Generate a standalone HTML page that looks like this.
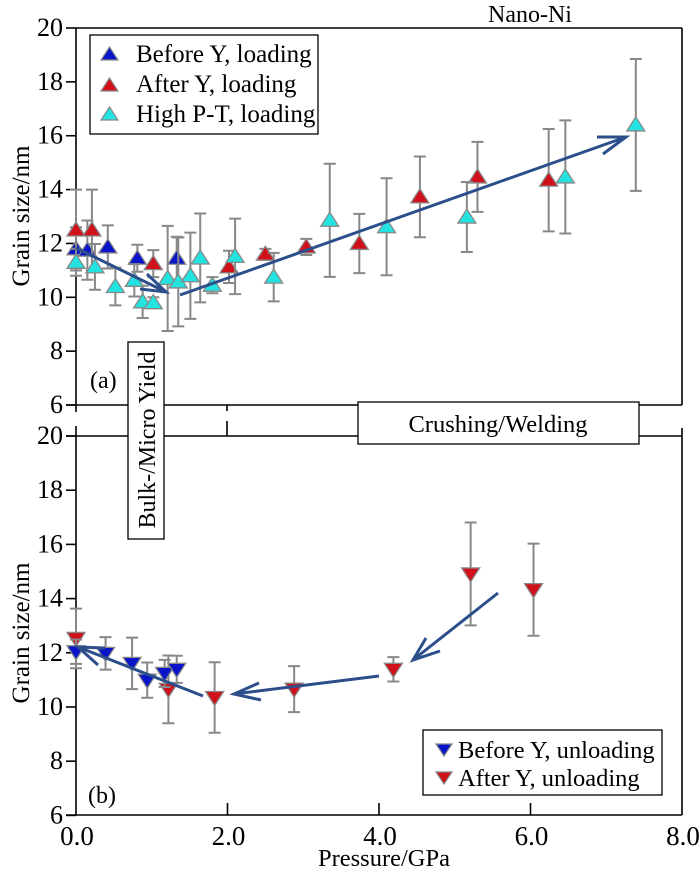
<!DOCTYPE html>
<html><head><meta charset="utf-8"><style>
html,body{margin:0;padding:0;background:#fff;}
svg, svg text{font-family:"Liberation Serif","Times New Roman",serif;}
</style></head><body>
<svg id="chart" width="700" height="873" viewBox="0 0 700 873" xmlns="http://www.w3.org/2000/svg" font-family="Liberation Serif, serif">
<g id="frame" stroke="#000" stroke-width="1.6" fill="none">
  <line x1="76" y1="28" x2="682" y2="28"/>
  <line x1="682" y1="28" x2="682" y2="405"/>
  <line x1="66" y1="405" x2="682" y2="405"/>
  <line x1="76" y1="28" x2="76" y2="412"/>
  <line x1="66" y1="436" x2="682" y2="436"/>
  <line x1="682" y1="428" x2="682" y2="815"/>
  <line x1="76" y1="426" x2="76" y2="815"/>
  <line x1="66" y1="815" x2="682" y2="815"/>
  <line x1="227" y1="405" x2="227" y2="411"/>
  <line x1="227" y1="421" x2="227" y2="436"/>
</g>
<g id="ticks"></g>
<text x="530" y="22" font-size="24" text-anchor="middle">Nano-Ni</text>
<g id="plotA"></g>
<g id="plotB"></g>
<g stroke="#2c4f8c" stroke-width="3" fill="none" stroke-linecap="butt">
  <path d="M76 248 L166 292 M140 289 L166 292 L147 274"/>
  <path d="M180 295 L626 137 M597 137 L626 137 L603 154"/>
  <path d="M498 593 L413 660 M426 638 L413 660 L440 651"/>
  <path d="M379 676 L234 694 M259 683 L234 694 L261 700"/>
  <path d="M203 696 L78 647 M105 648 L78 647 L98 665"/>
</g>
<g>
  <rect x="90" y="35" width="228" height="99" fill="#fff" stroke="#000" stroke-width="1.3"/>
  <polygon points="101,60 118,60 109.5,47" fill="#0a14c8" stroke="#888" stroke-width="1.2"/>
  <text x="136" y="62" font-size="25">Before Y, loading</text>
  <polygon points="101,91 118,91 109.5,78" fill="#d0101a" stroke="#888" stroke-width="1.2"/>
  <text x="136" y="92" font-size="25">After Y, loading</text>
  <polygon points="101,120 118,120 109.5,107" fill="#22e3e0" stroke="#888" stroke-width="1.2"/>
  <text x="136" y="122" font-size="25">High P-T, loading</text>
</g>
<g>
  <rect x="423" y="730" width="239" height="65" fill="#fff" stroke="#000" stroke-width="1.3"/>
  <polygon points="436,744 452,744 444,756" fill="#0a14c8" stroke="#888" stroke-width="1.2"/>
  <text x="458" y="758" font-size="24.5">Before Y, unloading</text>
  <polygon points="436,772 452,772 444,784" fill="#d0101a" stroke="#888" stroke-width="1.2"/>
  <text x="458" y="786" font-size="24.5">After Y, unloading</text>
</g>
<g>
  <rect x="128" y="342" width="36" height="197" fill="#fff" stroke="#000" stroke-width="1.3"/>
  <text transform="translate(155 440) rotate(-90)" font-size="24" text-anchor="middle">Bulk-/Micro Yield</text>
</g>
<g>
  <rect x="358" y="402" width="281" height="42" fill="#fff" stroke="#000" stroke-width="1.3"/>
  <text x="498" y="432" font-size="24.5" text-anchor="middle">Crushing/Welding</text>
</g>
<text x="90" y="388" font-size="24">(a)</text>
<text x="88" y="803" font-size="24">(b)</text>
<text transform="translate(29 216) rotate(-90)" font-size="25" text-anchor="middle">Grain size/nm</text>
<text transform="translate(29 633) rotate(-90)" font-size="25" text-anchor="middle">Grain size/nm</text>
<text x="384" y="866" font-size="24.5" text-anchor="middle">Pressure/GPa</text>
</svg>
<script>
const yTicks=[6,8,10,12,14,16,18,20];
const xTicks=[0,2,4,6,8];
const xTickLabels=["0.0","2.0","4.0","6.0","8.0"];
// panel a
const blueLoadP=[0,0.15,0.42,0.81,1.33];
const blueLoadG=[11.8,11.75,11.87,11.45,11.45];
const blueLoadE=[0.8,1.1,0.8,0.5,0.8];
const redLoadP=[0,0.21,1.02,2.02,2.5,3.04,3.74,4.54,5.3,6.24];
const redLoadG=[12.5,12.5,11.25,11.13,11.6,11.87,12.0,13.73,14.47,14.35];
const redLoadE=[1.5,1.5,0.5,0.6,0.2,0.3,1.1,1.5,1.3,1.9];
const cyanLoadP=[0,0.25,0.52,0.77,0.88,1.02,1.21,1.35,1.51,1.64,1.80,2.10,2.61,3.35,4.10,5.16,6.46,7.39];
const cyanLoadG=[11.3,11.13,10.4,10.63,9.83,9.8,10.7,10.57,10.8,11.46,10.45,11.52,10.75,12.86,12.62,12.98,14.47,16.4];
const cyanLoadE=[0.5,0.85,0.7,0.6,0.6,0.2,1.95,1.65,1.6,1.65,0.3,1.4,0.9,2.1,1.8,1.3,2.1,2.45];
// panel b
const blueUnloadP=[0,0.39,0.74,0.94,1.17,1.33];
const blueUnloadG=[12.04,11.98,11.61,10.99,11.24,11.39];
const blueUnloadE=[0.45,0.6,0.95,0.65,0.5,0.5];
const redUnloadP=[0,1.22,1.83,2.88,4.19,5.21,6.04];
const redUnloadG=[12.53,10.65,10.35,10.66,11.39,14.91,14.33];
const redUnloadE=[1.1,1.25,1.3,0.85,0.45,1.9,1.7];

const NS="http://www.w3.org/2000/svg";
const xS=p=>76+p*75.75;
const yA=g=>28+(20-g)*26.93;
const yB=g=>436+(20-g)*27.1;
function mk(tag,attrs,parent){const e=document.createElementNS(NS,tag);for(const k in attrs)e.setAttribute(k,attrs[k]);parent.appendChild(e);return e;}
const ticks=document.getElementById('ticks');
[yA,yB].forEach((ys,i)=>{
  yTicks.forEach(t=>{
    const l=mk('line',{x1:66,x2:76,y1:ys(t),y2:ys(t),stroke:'#000','stroke-width':1.6},ticks);
    
    
    const tx=mk('text',{x:63,y:ys(t)+8,'font-size':26,'text-anchor':'end'},ticks);
    tx.textContent=t;
    
    
  });
});
xTicks.forEach((t,i)=>{
  if(i>0&&i<4){
    const l=mk('line',{x1:xS(t),x2:xS(t),y1:803,y2:815,stroke:'#000','stroke-width':1.6},ticks);
    
    
  }
  const tx=mk('text',{x:xS(t)+1,y:845,'font-size':27,'text-anchor':'middle'},ticks);
  tx.textContent=xTickLabels[i];
  
  
});
function series(parent,P,G,E,ys,color,down,name){
  const g=mk('g',{},parent);
  
  
  P.forEach((p,i)=>{
    const x=xS(p),t=ys(G[i]+E[i]),b=ys(G[i]-E[i]);
    const eb=mk('path',{d:`M${x} ${t}V${b}M${x-6} ${t}H${x+6}M${x-6} ${b}H${x+6}`,stroke:'#888','stroke-width':2,fill:'none'},g);
    
    
  });
  P.forEach((p,i)=>{
    const x=xS(p),y=ys(G[i]);
    const pts=down?`${x-9},${y-6} ${x+9},${y-6} ${x},${y+8}`:`${x-9},${y+6} ${x+9},${y+6} ${x},${y-8}`;
    const m=mk('polygon',{points:pts,fill:color,stroke:'#888','stroke-width':1.3},g);
    
    
  });
}
const pa=document.getElementById('plotA'),pb=document.getElementById('plotB');
series(pa,blueLoadP,blueLoadG,blueLoadE,yA,'#0a14c8',false,'series-before-y-loading');
series(pa,redLoadP,redLoadG,redLoadE,yA,'#d0101a',false,'series-after-y-loading');
series(pa,cyanLoadP,cyanLoadG,cyanLoadE,yA,'#22e3e0',false,'series-high-pt-loading');
series(pb,redUnloadP,redUnloadG,redUnloadE,yB,'#d0101a',true,'series-after-y-unloading');
series(pb,blueUnloadP,blueUnloadG,blueUnloadE,yB,'#0a14c8',true,'series-before-y-unloading');
</script>
</body></html>
